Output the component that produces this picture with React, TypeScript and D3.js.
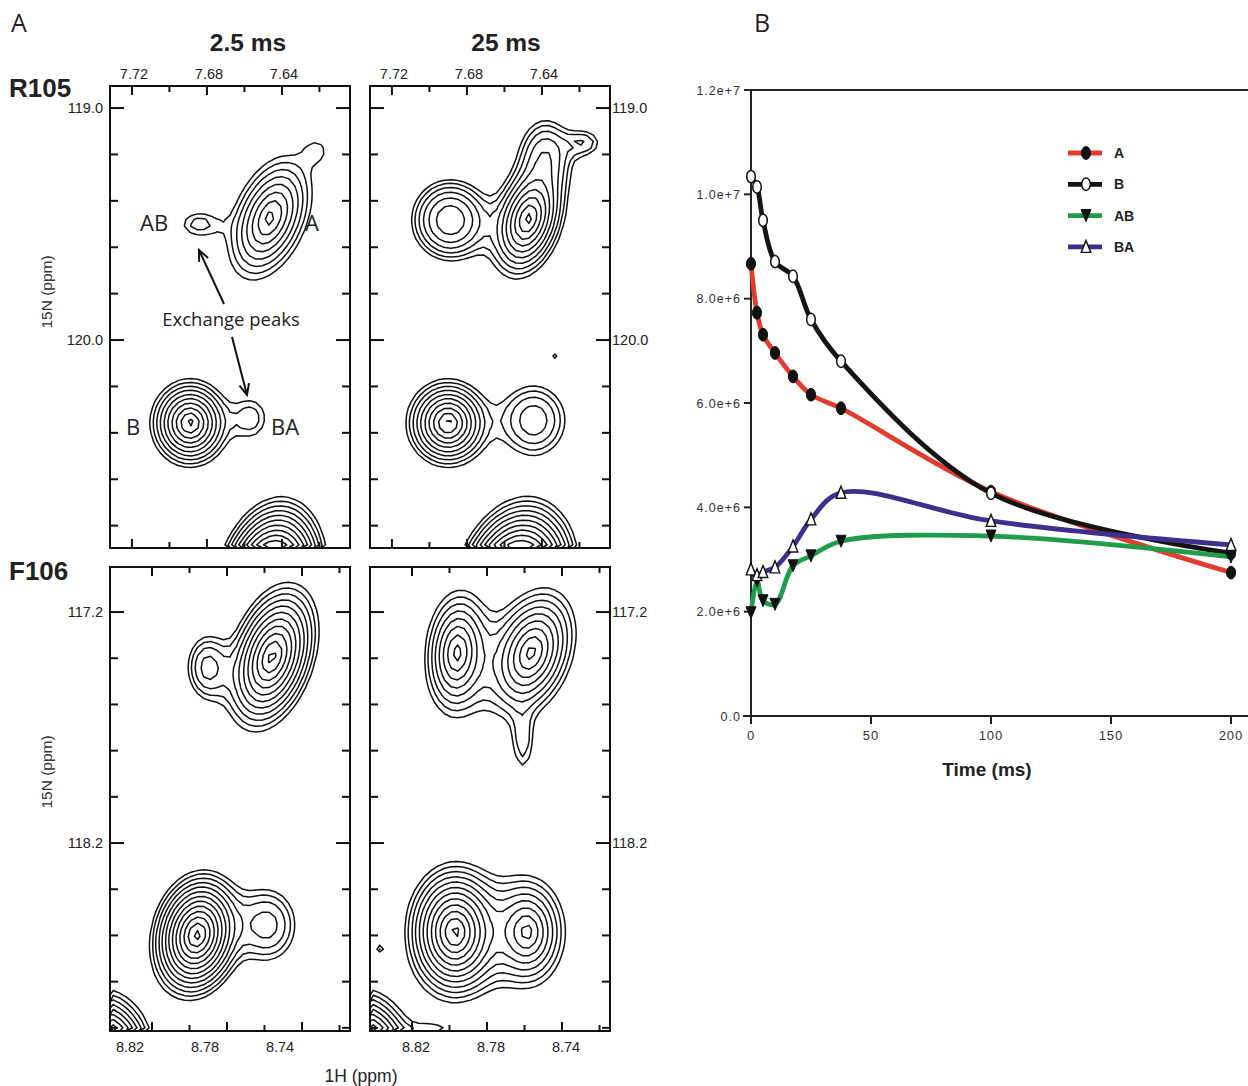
import React from "react";
import * as d3 from "d3";

// ---------------- Panel B data ----------------
const timesMs = [0, 2.5, 5, 10, 17.5, 25, 37.5, 100, 200];
const intensityA = [8.67e6, 7.73e6, 7.31e6, 6.96e6, 6.51e6, 6.16e6, 5.9e6, 4.3e6, 2.75e6];
const intensityB = [1.034e7, 1.014e7, 9.5e6, 8.71e6, 8.43e6, 7.6e6, 6.8e6, 4.27e6, 3.12e6];
const intensityAB = [1.98e6, 2.59e6, 2.21e6, 2.14e6, 2.88e6, 3.07e6, 3.35e6, 3.45e6, 3.05e6];
const intensityBA = [2.81e6, 2.7e6, 2.76e6, 2.85e6, 3.25e6, 3.77e6, 4.28e6, 3.74e6, 3.28e6];
const seriesNames = ["A", "B", "AB", "BA"];
const seriesColors = ["#e23b30", "#141414", "#1f9d4a", "#3e2f8d"];
const yTickValuesB = [0, 2e6, 4e6, 6e6, 8e6, 1e7, 1.2e7];
const yTickLabelsB = ["0.0", "2.0e+6", "4.0e+6", "6.0e+6", "8.0e+6", "1.0e+7", "1.2e+7"];
const xTickValuesB = [0, 50, 100, 150, 200];

// ---------------- Panel A data ----------------
const delayLabels = ["2.5 ms", "25 ms"];
const residueLabels = ["R105", "F106"];
const hTicksR105 = [7.72, 7.7, 7.68, 7.66, 7.64, 7.62];
const hLabelsR105 = [7.72, 7.68, 7.64];
const nTicksR105 = [119.0, 119.2, 119.4, 119.6, 119.8, 120.0, 120.2, 120.4, 120.6, 120.8];
const nLabelsR105 = [119.0, 120.0];
const hTicksF106 = [8.82, 8.8, 8.78, 8.76, 8.74, 8.72];
const hLabelsF106 = [8.82, 8.78, 8.74];
const nTicksF106 = [117.2, 117.4, 117.6, 117.8, 118.0, 118.2, 118.4, 118.6, 118.8, 119.0];
const nLabelsF106 = [117.2, 118.2];

// contour levels: lowest level 1, geometric factor 1.3
const contourLevels = d3.range(0, 20).map((n) => Math.pow(1.3, n));

// peaks: [1H ppm, 15N ppm, height (lowest-contour units), width 1H ppm, width 15N ppm, correlation, shape exponent]
const peaksR105_2p5 = [
  [7.6464, 119.474, 7.2, 0.013, 0.155, 0.4, 1.25],
  [7.6208, 119.181, 0.8, 0.006, 0.05, 0, 2],
  [7.6848, 119.5, 1.4, 0.0085, 0.048, 0, 2],
  [7.689, 120.358, 12, 0.0103, 0.092, 0, 1.25],
  [7.656, 120.336, 1.4, 0.0075, 0.075, 0, 2],
  [7.6464, 121.056, 60, 0.0099, 0.123, 0.2, 1.25],
];
const peaksR105_25 = [
  [7.6474, 119.478, 12, 0.0098, 0.125, 0.3, 1.25],
  [7.638, 119.19, 2.2, 0.009, 0.1, 0, 2],
  [7.617, 119.15, 1.5, 0.007, 0.045, 0, 2],
  [7.689, 119.483, 4.5, 0.0118, 0.1, 0, 2],
  [7.6901, 120.358, 12, 0.0108, 0.092, 0, 1.25],
  [7.6442, 120.345, 2.6, 0.0118, 0.105, 0, 2],
  [7.633, 120.069, 1.2, 0.0022, 0.018, 0, 2],
  [7.6544, 121.056, 60, 0.011, 0.123, 0.2, 1.25],
];
const peaksF106_2p5 = [
  [8.756, 117.395, 15.7, 0.0111, 0.144, 0.35, 1.25],
  [8.7907, 117.438, 2.3, 0.0075, 0.095, 0, 2],
  [8.796, 118.598, 26.5, 0.0097, 0.109, 0.15, 1.25],
  [8.7581, 118.555, 2.4, 0.0107, 0.11, 0, 2],
  [8.8477, 119.161, 40, 0.0103, 0.116, 0, 1.25],
];
const peaksF106_25 = [
  [8.796, 117.377, 7.2, 0.0099, 0.156, 0.1, 1.25],
  [8.7565, 117.377, 9.3, 0.0126, 0.148, 0.3, 1.25],
  [8.7608, 117.776, 1.3, 0.0045, 0.1, 0, 2],
  [8.7971, 118.585, 20.3, 0.011, 0.125, 0, 1.25],
  [8.7587, 118.585, 7.2, 0.0118, 0.138, 0, 1.25],
  [8.8371, 118.654, 1.2, 0.0025, 0.02, 0, 2],
  [8.8477, 119.161, 40, 0.0103, 0.116, 0, 1.25],
  [8.8094, 119.06, 1.45, 0.01, 0.06, 0, 2],
];

const narrowFont = "'Liberation Sans Narrow', 'Liberation Sans', Arial, sans-serif";
const sansFont = "'Liberation Sans', Arial, sans-serif";
const labelFont = "'Open Sans', 'DejaVu Sans', sans-serif";

type Peak = number[];

function ContourPanel(props: {
  left: number; top: number; width: number; height: number;
  xDomain: [number, number]; yDomain: [number, number];
  peaks: Peak[]; id: string;
  xTicks: number[]; yTicks: number[]; yLabels: number[];
  xLabels: number[]; xLabelSide: "top" | "bottom"; xLabelShift: number;
  showLeftLabels: boolean; showRightLabels: boolean;
}) {
  const { left, top, width, height, xDomain, yDomain, peaks, id } = props;
  const x = d3.scaleLinear().domain(xDomain).range([0, width]);
  const y = d3.scaleLinear().domain(yDomain).range([0, height]);
  const nx = Math.round(width / 6.5);
  const ny = Math.round(height / 6.5);
  const sx = width / nx;
  const sy = height / ny;
  const values = new Array(nx * ny).fill(0);
  for (let j = 0; j < ny; j++) {
    const yp = y.invert((j + 0.5) * sy);
    for (let i = 0; i < nx; i++) {
      const xp = x.invert((i + 0.5) * sx);
      let v = 0;
      for (const p of peaks) {
        const u = (xp - p[0]) / p[3];
        const w = (yp - p[1]) / p[4];
        const r = p[5];
        const q = (u * u - 2 * r * u * w + w * w) / (1 - r * r);
        v += p[2] * Math.exp(-Math.pow(q, p[6] / 2) * (p[6] === 2 ? 0.5 : 1));
      }
      values[j * nx + i] = v;
    }
  }
  const contours = d3.contours().size([nx, ny]).thresholds(contourLevels)(values);
  const path = d3.geoPath(
    d3.geoTransform({
      point(a: number, b: number) {
        (this as any).stream.point(a * sx, b * sy);
      },
    })
  );
  const majorLen = 11;
  const minorLen = 8;
  return (
    <g transform={`translate(${left},${top})`}>
      <defs>
        <clipPath id={id}>
          <rect x={0} y={0} width={width} height={height} />
        </clipPath>
      </defs>
      <g clipPath={`url(#${id})`}>
        {contours.map((c, k) =>
          c.coordinates.length ? (
            <path key={k} d={path(c as any) || ""} fill="none" stroke="#111" strokeWidth={1.5} strokeLinejoin="round" />
          ) : null
        )}
      </g>
      {props.xTicks.map((t, k) => {
        const big = props.xLabels.some((l) => Math.abs(l - t) < 1e-6);
        const len = big ? majorLen : minorLen;
        return (
          <g key={"xt" + k}>
            <line x1={x(t)} x2={x(t)} y1={0} y2={len - 2} stroke="#111" strokeWidth={2} />
            <line x1={x(t)} x2={x(t)} y1={height} y2={height - len + 2} stroke="#111" strokeWidth={2} />
          </g>
        );
      })}
      {props.yTicks.map((t, k) => {
        const big = props.yLabels.some((l) => Math.abs(l - t) < 1e-6);
        const len = big ? majorLen + 3 : minorLen;
        return (
          <g key={"yt" + k}>
            <line x1={0} x2={len} y1={y(t)} y2={y(t)} stroke="#111" strokeWidth={2} />
            <line x1={width} x2={width - len} y1={y(t)} y2={y(t)} stroke="#111" strokeWidth={2} />
          </g>
        );
      })}
      <rect x={0} y={0} width={width} height={height} fill="none" stroke="#111" strokeWidth={2} />
      {props.xLabels.map((t, k) => (
        <text
          key={"xl" + k}
          x={x(t) + props.xLabelShift}
          y={props.xLabelSide === "top" ? -7 : height + 21}
          textAnchor="middle"
          fontFamily={narrowFont}
          fontSize={14.5}
          fill="#222"
        >
          {t.toFixed(2)}
        </text>
      ))}
      {props.showLeftLabels &&
        props.yLabels.map((t, k) => (
          <text key={"yl" + k} x={-7} y={y(t) + 5} textAnchor="end" fontFamily={narrowFont} fontSize={14.5} fill="#222">
            {t.toFixed(1)}
          </text>
        ))}
      {props.showRightLabels &&
        props.yLabels.map((t, k) => (
          <text key={"yr" + k} x={width + 2} y={y(t) + 5} textAnchor="start" fontFamily={narrowFont} fontSize={14.5} fill="#222">
            {t.toFixed(1)}
          </text>
        ))}
    </g>
  );
}

function Marker({ kind, cx, cy }: { kind: number; cx: number; cy: number }) {
  if (kind === 0) return <ellipse cx={cx} cy={cy} rx={4.6} ry={6.4} fill="#111" stroke="#111" strokeWidth={1} />;
  if (kind === 1) return <ellipse cx={cx} cy={cy} rx={4.3} ry={6.2} fill="#fff" stroke="#111" strokeWidth={1.5} />;
  if (kind === 2)
    return <path d={`M${cx - 5},${cy - 6} L${cx + 5},${cy - 6} L${cx},${cy + 6} Z`} fill="#111" stroke="#111" strokeWidth={1} />;
  return <path d={`M${cx},${cy - 6.5} L${cx + 4.8},${cy + 5.5} L${cx - 4.8},${cy + 5.5} Z`} fill="#fff" stroke="#111" strokeWidth={1.4} />;
}

function PanelB() {
  const x = d3.scaleLinear().domain([0, 200]).range([751, 1231]);
  const y = d3.scaleLinear().domain([0, 1.2e7]).range([716, 90]);
  const series = [intensityA, intensityB, intensityAB, intensityBA];
  const line = d3
    .line<number>()
    .x((_, i) => x(timesMs[i]))
    .y((d) => y(d))
    .curve(d3.curveCatmullRom.alpha(0.5));
  return (
    <g>
      <line x1={745} x2={1248} y1={y(1.2e7)} y2={y(1.2e7)} stroke="#222" strokeWidth={2} />
      <line x1={743} x2={1248} y1={y(0)} y2={y(0)} stroke="#222" strokeWidth={2} />
      <line x1={751} x2={751} y1={y(1.2e7) - 1} y2={y(0) + 4} stroke="#222" strokeWidth={2} />
      {yTickValuesB.map((v, k) => (
        <g key={"by" + k}>
          <line x1={744} x2={751} y1={y(v)} y2={y(v)} stroke="#222" strokeWidth={2} />
          <text x={741} y={y(v) + 4.5} textAnchor="end" fontFamily={sansFont} fontSize={12.5} letterSpacing={1} fill="#333">
            {yTickLabelsB[k]}
          </text>
        </g>
      ))}
      {xTickValuesB.map((v, k) => (
        <g key={"bx" + k}>
          <line x1={x(v)} x2={x(v)} y1={y(0)} y2={y(0) + 8} stroke="#222" strokeWidth={2} />
          <text x={x(v)} y={y(0) + 24} textAnchor="middle" fontFamily={sansFont} fontSize={13} letterSpacing={1} fill="#333">
            {v}
          </text>
        </g>
      ))}
      <text x={987} y={776} textAnchor="middle" fontFamily={sansFont} fontWeight="bold" fontSize={19} fill="#222">
        Time (ms)
      </text>
      {series.map((s, k) => (
        <path key={"ln" + k} d={line(s) || ""} fill="none" stroke={seriesColors[k]} strokeWidth={4.8} strokeLinecap="round" />
      ))}
      {series.map((s, k) =>
        s.map((v, i) => <Marker key={`m${k}-${i}`} kind={k} cx={x(timesMs[i])} cy={y(v)} />)
      )}
      {seriesNames.map((n, k) => {
        const ly = 153 + k * 31.3;
        return (
          <g key={"lg" + k}>
            <line x1={1068} x2={1102} y1={ly} y2={ly} stroke={seriesColors[k]} strokeWidth={4.8} />
            <Marker kind={k} cx={1086} cy={ly} />
            <text x={1114} y={ly + 5} fontFamily={sansFont} fontWeight="bold" fontSize={14} fill="#222">
              {n}
            </text>
          </g>
        );
      })}
    </g>
  );
}

export default function App() {
  const topX: [number, number] = [7.7317, 7.7317 - 240 / 1875];
  const topY: [number, number] = [118.905, 118.905 + 462 / 232];
  const botX: [number, number] = [8.8424, 8.8424 - 240 / 1875];
  const botY: [number, number] = [117.005, 117.005 + 464 / 231];
  const arrowHead = (x1: number, y1: number, x2: number, y2: number) => {
    const a = Math.atan2(y2 - y1, x2 - x1);
    const L = 12;
    const s = 0.42;
    return `M${x2 - L * Math.cos(a - s)},${y2 - L * Math.sin(a - s)} L${x2},${y2} L${x2 - L * Math.cos(a + s)},${y2 - L * Math.sin(a + s)}`;
  };
  return (
    <svg width={1248} height={1086} style={{ position: "absolute", left: 0, top: 0, background: "#fff" }}>
      <rect x={0} y={0} width={1248} height={1086} fill="#fff" />
      <text x={11} y={32} fontFamily={labelFont} fontSize={25} fill="#222">A</text>
      <text x={754} y={32} fontFamily={labelFont} fontSize={25} fill="#222">B</text>
      <text x={248} y={51} textAnchor="middle" fontFamily={narrowFont} fontWeight="bold" fontSize={24.5} fill="#222">{delayLabels[0]}</text>
      <text x={506} y={51} textAnchor="middle" fontFamily={narrowFont} fontWeight="bold" fontSize={24.5} fill="#222">{delayLabels[1]}</text>
      <text x={9} y={97} fontFamily={sansFont} fontWeight="bold" fontSize={26} fill="#222">{residueLabels[0]}</text>
      <text x={9} y={580} fontFamily={sansFont} fontWeight="bold" fontSize={26} fill="#222">{residueLabels[1]}</text>
      <text transform="translate(52,292) rotate(-90)" textAnchor="middle" fontFamily={sansFont} fontSize={15.5} fill="#333">15N (ppm)</text>
      <text transform="translate(52,772) rotate(-90)" textAnchor="middle" fontFamily={sansFont} fontSize={15.5} fill="#333">15N (ppm)</text>
      <text x={361} y={1082} textAnchor="middle" fontFamily={sansFont} fontSize={17.5} fill="#222">1H (ppm)</text>

      <ContourPanel id="c1" left={110} top={86} width={240} height={462} xDomain={topX} yDomain={topY} peaks={peaksR105_2p5}
        xTicks={hTicksR105} xLabels={hLabelsR105} xLabelSide="top" xLabelShift={2} yTicks={nTicksR105} yLabels={nLabelsR105} showLeftLabels={true} showRightLabels={false} />
      <ContourPanel id="c2" left={370} top={86} width={240} height={462} xDomain={topX} yDomain={topY} peaks={peaksR105_25}
        xTicks={hTicksR105} xLabels={hLabelsR105} xLabelSide="top" xLabelShift={2} yTicks={nTicksR105} yLabels={nLabelsR105} showLeftLabels={false} showRightLabels={true} />
      <ContourPanel id="c3" left={110} top={567} width={240} height={464} xDomain={botX} yDomain={botY} peaks={peaksF106_2p5}
        xTicks={hTicksF106} xLabels={hLabelsF106} xLabelSide="bottom" xLabelShift={-22} yTicks={nTicksF106} yLabels={nLabelsF106} showLeftLabels={true} showRightLabels={false} />
      <ContourPanel id="c4" left={370} top={567} width={240} height={464} xDomain={botX} yDomain={botY} peaks={peaksF106_25}
        xTicks={hTicksF106} xLabels={hLabelsF106} xLabelSide="bottom" xLabelShift={4} yTicks={nTicksF106} yLabels={nLabelsF106} showLeftLabels={false} showRightLabels={true} />

      <g fontFamily={labelFont} fill="#222">
        <text x={140} y={231} fontSize={22}>AB</text>
        <text x={305} y={231} fontSize={22}>A</text>
        <text x={126} y={435} fontSize={22}>B</text>
        <text x={271} y={435} fontSize={22}>BA</text>
        <text x={231} y={326} textAnchor="middle" fontSize={18.5}>Exchange peaks</text>
      </g>
      <line x1={224} y1={304} x2={199} y2={250} stroke="#111" strokeWidth={2} />
      <path d={arrowHead(224, 304, 199, 250)} fill="none" stroke="#111" strokeWidth={2} />
      <line x1={232} y1={337} x2={247} y2={395} stroke="#111" strokeWidth={2} />
      <path d={arrowHead(232, 337, 247, 395)} fill="none" stroke="#111" strokeWidth={2} />

      <PanelB />
    </svg>
  );
}
